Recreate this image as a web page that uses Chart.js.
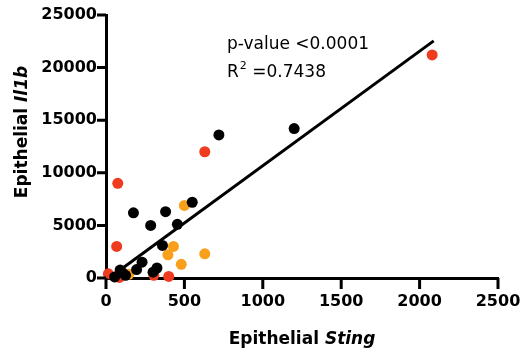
<!DOCTYPE html>
<html>
<head>
<meta charset="utf-8">
<script src="https://cdn.jsdelivr.net/npm/chart.js@4.4.1/dist/chart.umd.min.js"></script>
<style>
  html, body { margin: 0; padding: 0; background: #fff; }
  #wrap { width: 526px; height: 352px; }
</style>
</head>
<body>
<div id="wrap"><canvas id="sting"></canvas></div>
<script>
// values (x = Sting, y = Il1b)
var blackX = [720, 1200, 550, 175, 380, 285, 455, 360, 230, 195, 325, 300, 90, 105, 55, 125];
var blackY = [13600, 14200, 7200, 6200, 6300, 5000, 5100, 3100, 1500, 800, 950, 550, 750, 500, 100, 250];
var redX = [2080, 630, 75, 68, 305, 400, 15, 85];
var redY = [21200, 12000, 9000, 3000, 250, 150, 400, 50];
var orangeX = [500, 430, 395, 630, 480, 145];
var orangeY = [6900, 3000, 2200, 2300, 1300, 350];
// fitted line, two ends
var fitX = [70, 2090];
var fitY = [540, 22540];
var xTicks = [0, 500, 1000, 1500, 2000, 2500];
var yTicks = [0, 5000, 10000, 15000, 20000, 25000];
var pText = "p-value <0.0001";
var rText = "0.7438";

function pts(xs, ys) {
  return xs.map(function (x, i) { return { x: x, y: ys[i] }; });
}

// tick marks outside the axes
var tickMarks = {
  id: "tickMarks",
  afterDraw: function (chart) {
    var ctx = chart.ctx;
    var a = chart.chartArea;
    var sx = chart.scales.x, sy = chart.scales.y;
    ctx.save();
    ctx.strokeStyle = "#000";
    ctx.lineWidth = 3;
    ctx.lineCap = "butt";
    ctx.beginPath();
    xTicks.forEach(function (v) {
      var px = sx.getPixelForValue(v);
      ctx.moveTo(px, a.bottom);
      ctx.lineTo(px, a.bottom + 11);
    });
    yTicks.forEach(function (v) {
      var py = sy.getPixelForValue(v);
      ctx.moveTo(a.left, py);
      ctx.lineTo(a.left - 9, py);
    });
    ctx.stroke();
    ctx.restore();
  }
};

var labels = {
  id: "labels",
  afterDraw: function (chart) {
    var ctx = chart.ctx;
    var a = chart.chartArea;
    ctx.save();
    ctx.fillStyle = "#000";
    ctx.textBaseline = "alphabetic";

    // x title
    var f1 = "bold 17px 'DejaVu Sans'";
    var f2 = "italic bold 17px 'DejaVu Sans'";
    ctx.font = f1;
    var w1 = ctx.measureText("Epithelial ").width;
    ctx.font = f2;
    var w2 = ctx.measureText("Sting").width;
    var cx = (a.left + a.right) / 2;
    var sx = cx - (w1 + w2) / 2;
    ctx.textAlign = "left";
    ctx.font = f1;
    ctx.fillText("Epithelial ", sx, 344);
    ctx.font = f2;
    ctx.fillText("Sting", sx + w1, 344);

    // y title
    ctx.font = f1;
    w1 = ctx.measureText("Epithelial ").width;
    ctx.font = f2;
    w2 = ctx.measureText("Il1b").width;
    ctx.translate(27, 132);
    ctx.rotate(-Math.PI / 2);
    sx = -(w1 + w2) / 2;
    ctx.font = f1;
    ctx.fillText("Epithelial ", sx, 0);
    ctx.font = f2;
    ctx.fillText("Il1b", sx + w1, 0);
    ctx.setTransform(1, 0, 0, 1, 0, 0);

    // stats
    ctx.font = "17px 'DejaVu Sans'";
    ctx.fillText(pText, 227, 49);
    ctx.fillText("R", 227, 77);
    var rw = ctx.measureText("R").width;
    ctx.font = "11px 'DejaVu Sans'";
    ctx.fillText("2", 227 + rw + 1, 69);
    var sw = ctx.measureText("2").width;
    ctx.font = "17px 'DejaVu Sans'";
    ctx.fillText(" =" + rText, 227 + rw + sw + 1, 77);
    ctx.restore();
  }
};

var tickFont = { family: "DejaVu Sans", weight: "bold", size: 16 };
function plain(v) { return String(v); }

new Chart("sting", {
  type: "scatter",
  data: {
    datasets: [{
      label: "fit",
      type: "line",
      data: pts(fitX, fitY),
      borderColor: "#000",
      borderWidth: 3,
      pointRadius: 0,
      order: 4
    }, {
      label: "orange",
      data: pts(orangeX, orangeY),
      backgroundColor: "#f8a01c",
      borderWidth: 0,
      pointRadius: 5.5,
      clip: false,
      order: 3
    }, {
      label: "red",
      data: pts(redX, redY),
      backgroundColor: "#ef3b1f",
      borderWidth: 0,
      pointRadius: 5.5,
      clip: false,
      order: 2
    }, {
      label: "black",
      data: pts(blackX, blackY),
      backgroundColor: "#000",
      borderWidth: 0,
      pointRadius: 5.5,
      clip: false,
      order: 1
    }]
  },
  options: {
    responsive: true,
    maintainAspectRatio: false,
    animation: false,
    layout: { padding: { top: 15, right: 28, left: 0, bottom: 0 } },
    plugins: { legend: { display: false }, tooltip: { enabled: false } },
    scales: {
      x: {
        type: "linear",
        min: 0, max: 2500,
        afterBuildTicks: function (s) { s.ticks = xTicks.map(function (v) { return { value: v }; }); },
        afterFit: function (s) { s.height = 74; s.paddingLeft = 0; s.paddingRight = 0; },
        border: { display: true, color: "#000", width: 3 },
        grid: { display: false, drawTicks: false },
        ticks: { color: "#000", padding: 14, font: tickFont, callback: plain }
      },
      y: {
        type: "linear",
        min: 0, max: 25000,
        afterBuildTicks: function (s) { s.ticks = yTicks.map(function (v) { return { value: v }; }); },
        afterFit: function (s) { s.width = 106; s.paddingTop = 0; s.paddingBottom = 0; },
        border: { display: true, color: "#000", width: 3 },
        grid: { display: false, drawTicks: false },
        ticks: { color: "#000", padding: 9, font: tickFont, callback: plain }
      }
    }
  },
  plugins: [tickMarks, labels]
});
</script>
</body>
</html>
